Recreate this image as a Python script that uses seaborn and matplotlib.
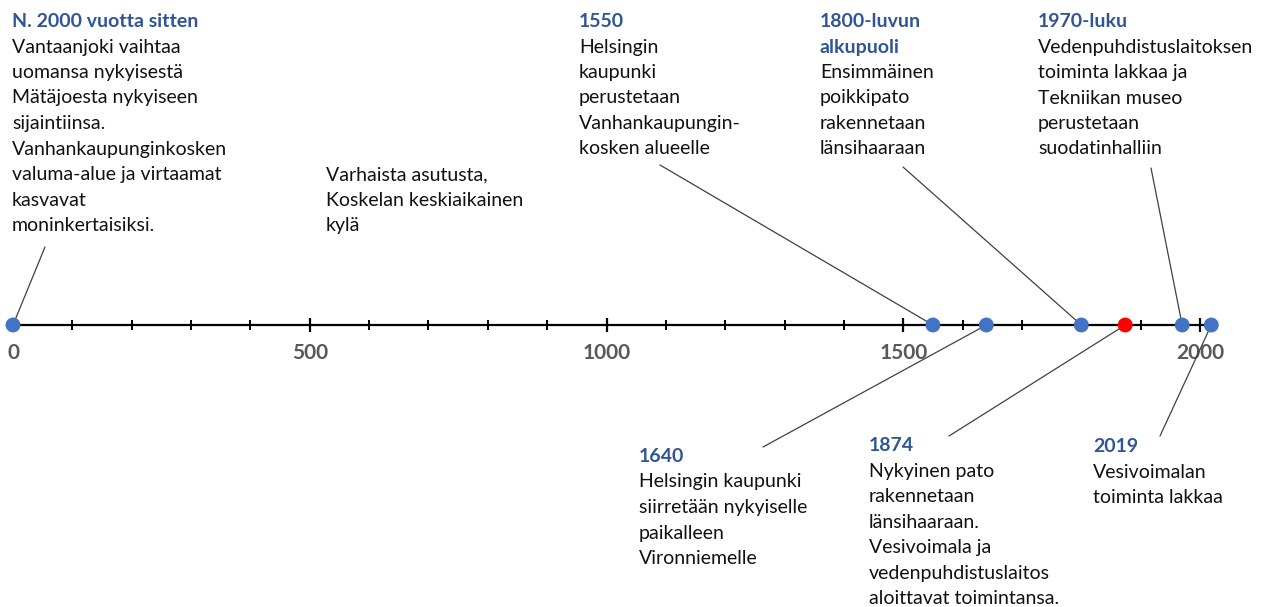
import numpy as np
import pandas as pd
import seaborn as sns
import matplotlib.pyplot as plt

# ---------------- data ----------------
years = [0, 1550, 1640, 1800, 1874, 1970, 2019]
kinds = ["normal", "normal", "normal", "normal", "highlight", "normal", "normal"]
titles = [
    "N. 2000 vuotta sitten",
    "1550",
    "1640",
    "1800-luvun\nalkupuoli",
    "1874",
    "1970-luku",
    "2019",
]
bodies = [
    "Vantaanjoki vaihtaa\nuomansa nykyisestä\nMätäjoesta nykyiseen\nsijaintiinsa.\n"
    "Vanhankaupunginkosken\nvaluma-alue ja virtaamat\nkasvavat\nmoninkertaisiksi.",
    "Helsingin\nkaupunki\nperustetaan\nVanhankaupungin-\nkosken alueelle",
    "Helsingin kaupunki\nsiirretään nykyiselle\npaikalleen\nVironniemelle",
    "Ensimmäinen\npoikkipato\nrakennetaan\nlänsihaaraan",
    "Nykyinen pato\nrakennetaan\nlänsihaaraan.\nVesivoimala ja\nvedenpuhdistuslaitos\naloittavat toimintansa.",
    "Vedenpuhdistuslaitoksen\ntoiminta lakkaa ja\nTekniikan museo\nperustetaan\nsuodatinhalliin",
    "Vesivoimalan\ntoiminta lakkaa",
]
extra_note = "Varhaista asutusta,\nKoskelan keskiaikainen\nkylä"
major_ticks = [0, 500, 1000, 1500, 2000]
minor_ticks = list(range(0, 2001, 100))

# ---------------- layout (pixels) ----------------
W, H = 1266, 607
X0PX, PXPERYR = 13, 1187 / 2000
AXIS_PX = 325
PITCH = 25.5
# text block: (x px, first baseline px)
block_pos = [(12, 27), (579, 27), (639, 462), (820, 27), (869, 451), (1038, 27), (1093, 452)]
note_pos = (326, 180)
# connector start points (px)
conn_start = [(45, 247), (660, 165), (763, 447), (903, 167), (949, 436), (1151, 168), (1160, 436)]

TITLE_C = "#2F5597"
BODY_C = "#111111"
FS = 14

sns.set_theme(style="white")
plt.rcParams["font.family"] = ["Lato", "DejaVu Sans"]

fig = plt.figure(figsize=(W / 100, H / 100), dpi=100)
ax = fig.add_axes([0, 0, 1, 1])
ax.set_xlim(-X0PX / PXPERYR, (W - X0PX) / PXPERYR)
ax.set_ylim(-(H - AXIS_PX) / H, AXIS_PX / H)

df = pd.DataFrame({"year": years, "y": [0] * len(years), "kind": kinds})
sns.scatterplot(data=df, x="year", y="y", hue="kind",
                palette={"normal": "#4472C4", "highlight": "#FF0000"},
                s=115, edgecolor="none", legend=False, zorder=5, ax=ax)

for s in ["top", "right", "left"]:
    ax.spines[s].set_visible(False)
sp = ax.spines["bottom"]
sp.set_position(("data", 0))
sp.set_bounds(0, 2019)
sp.set_linewidth(1.6)
sp.set_color("black")

ax.set_xticks(major_ticks)
ax.set_xticklabels([str(t) for t in major_ticks])
ax.set_xticks(minor_ticks, minor=True)
ax.tick_params(axis="x", which="major", direction="inout", length=9.5, width=1.6,
               color="black", pad=8.5, labelsize=15, labelcolor="#595959", bottom=True)
ax.tick_params(axis="x", which="minor", direction="inout", length=7.5, width=1.4,
               color="black", bottom=True)
for lab in ax.get_xticklabels():
    lab.set_fontweight("bold")
ax.set_yticks([])
ax.set_xlabel("")
ax.set_ylabel("")


def put_lines(xpx, base_py, title, body):
    lines = []
    if title:
        lines += [(t, True) for t in title.split("\n")]
    lines += [(b, False) for b in body.split("\n")]
    for i, (txt, bold) in enumerate(lines):
        ax.text(xpx / W, 1 - (base_py + i * PITCH) / H, txt, transform=ax.transAxes,
                ha="left", va="baseline", fontsize=FS,
                fontweight="bold" if bold else "normal",
                color=TITLE_C if bold else BODY_C)


for (xp, bp), t, b in zip(block_pos, titles, bodies):
    put_lines(xp, bp, t, b)
put_lines(note_pos[0], note_pos[1], "", extra_note)

for yr, (sx, sy) in zip(years, conn_start):
    ax.annotate("", xy=(yr, 0), xycoords="data",
                xytext=(sx / W, 1 - sy / H), textcoords="axes fraction",
                arrowprops=dict(arrowstyle="-", color="#404040", lw=0.9,
                                shrinkA=0, shrinkB=0), zorder=3)

fig.savefig("out.png", dpi=100)
